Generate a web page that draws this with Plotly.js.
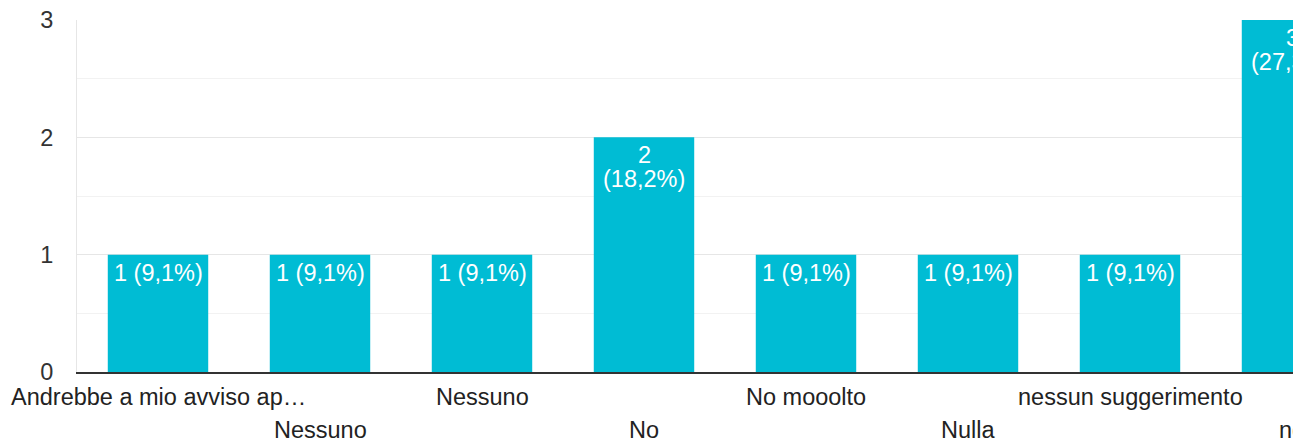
<!DOCTYPE html>
<html>
<head>
<meta charset="utf-8">
<script src="https://cdn.plot.ly/plotly-3.0.1.min.js"></script>
<style>
  html, body { margin: 0; padding: 0; background: #fff; overflow: hidden; }
  #wrap { width: 1293px; height: 445px; overflow: hidden; position: relative; }
  #chart { width: 1400px; height: 445px; }
</style>
</head>
<body>
<div id="wrap"><div id="chart"></div></div>
<script>
// Data
const categories = [
  "Andrebbe a mio avviso ap…",
  "Nessuno",
  "Nessuno",
  "No",
  "No mooolto",
  "Nulla",
  "nessun suggerimento",
  "no"
];
const counts = [1, 1, 1, 2, 1, 1, 1, 3];
const yTickValues = [0, 1, 2, 3];
const yTickLabels = ["0", "1", "2", "3"];

const total = counts.reduce((a, b) => a + b, 0);
const xs = categories.map((_, i) => i);
const pctLabels = counts.map(v => "(" + (v / total * 100).toFixed(1).replace(".", ",") + "%)");

const FONT = "Arial, 'Liberation Sans', sans-serif";
const FS = 23.5;

const annotations = [];
// category labels, staggered in two rows
categories.forEach((c, i) => {
  annotations.push({
    x: xs[i], y: 0, xref: "x", yref: "y",
    text: c, showarrow: false,
    xanchor: "center", yanchor: "middle",
    yshift: (i % 2 === 0) ? -25 : -58,
    font: { family: FONT, size: FS, color: "#222" }
  });
});
// value labels inside bars
counts.forEach((v, i) => {
  const one = v + " " + pctLabels[i];
  if (one.length <= 8) {
    annotations.push({
      x: xs[i], y: v, xref: "x", yref: "y",
      text: one, showarrow: false,
      xanchor: "center", yanchor: "middle", yshift: -18,
      font: { family: FONT, size: FS, color: "#fff" }
    });
  } else {
    annotations.push({
      x: xs[i], y: v, xref: "x", yref: "y",
      text: String(v), showarrow: false,
      xanchor: "center", yanchor: "middle", yshift: -18,
      font: { family: FONT, size: FS, color: "#fff" }
    });
    annotations.push({
      x: xs[i], y: v, xref: "x", yref: "y",
      text: pctLabels[i], showarrow: false,
      xanchor: "center", yanchor: "middle", yshift: -42,
      font: { family: FONT, size: FS, color: "#fff" }
    });
  }
});

const trace = {
  type: "bar",
  x: xs,
  y: counts,
  marker: { color: "#00BCD4" },
  textposition: "none",
  hoverinfo: "none"
};

const layout = {
  width: 1400,
  height: 445,
  margin: { l: 77, r: 27, t: 20, b: 73 },
  paper_bgcolor: "#fff",
  plot_bgcolor: "#fff",
  showlegend: false,
  bargap: 0.38,
  font: { family: FONT, size: FS, color: "#333" },
  xaxis: {
    range: [-0.5, categories.length - 0.5],
    showticklabels: false,
    showgrid: false,
    zeroline: false,
    showline: true,
    linecolor: "#333",
    linewidth: 2,
    ticks: "",
    fixedrange: true
  },
  xaxis2: {
    overlaying: "x",
    side: "top",
    range: [-0.5, categories.length - 0.5],
    showticklabels: false,
    showgrid: false,
    zeroline: false,
    showline: true,
    linecolor: "#ebebeb",
    linewidth: 2,
    ticks: "",
    fixedrange: true
  },
  yaxis: {
    range: [0, 3],
    tickmode: "array",
    tickvals: yTickValues,
    ticktext: yTickLabels,
    ticks: "outside",
    ticklen: 18,
    tickcolor: "rgba(0,0,0,0)",
    tickfont: { family: FONT, size: FS, color: "#333" },
    showgrid: true,
    gridcolor: "#e6e6e6",
    gridwidth: 1,
    minor: { dtick: 0.5, showgrid: true, gridcolor: "#f2f2f2", ticks: "" },
    zeroline: false,
    showline: true,
    linecolor: "#e6e6e6",
    linewidth: 1,
    fixedrange: true
  },
  annotations: annotations
};

Plotly.newPlot("chart", [trace], layout, { staticPlot: true, displayModeBar: false });
</script>
</body>
</html>
